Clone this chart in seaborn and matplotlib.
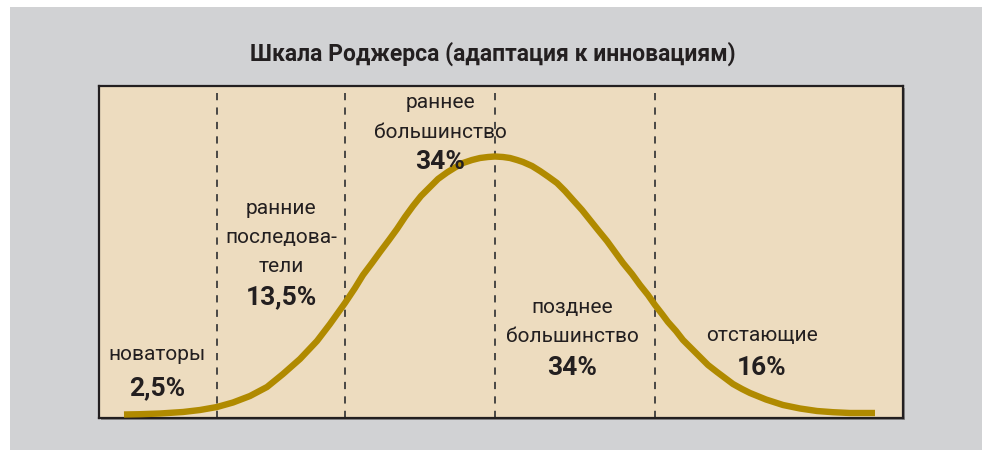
import matplotlib
matplotlib.use('Agg')
import matplotlib.pyplot as plt
from matplotlib.patches import Rectangle
import seaborn as sns

# curve (x in px, height above panel bottom in px)
curve_x = [124, 140, 160, 183, 200, 217, 233, 250, 267, 283, 300, 317, 330, 345,
           355, 363, 372, 380, 389, 397, 405, 413, 421, 430, 438, 447, 455, 463,
           472, 480, 488, 495, 503, 510, 517, 523, 532, 540, 548, 557, 565, 573,
           582, 590, 598, 607, 615, 623, 632, 640, 648, 655, 662, 668, 676, 683,
           692, 700, 708, 717, 725, 733, 742, 750, 766, 783, 800, 817, 833, 850,
           875]
curve_y = [3.5, 3.8, 4.5, 6, 8, 11, 15.5, 22, 31, 44, 59, 77, 94, 115,
           130, 143, 155, 166, 178, 189, 201, 212, 222, 231, 239, 245.5, 250.5, 255,
           258, 260, 261, 261.5, 261, 260, 258, 256, 252, 247, 241.5, 235, 227, 218,
           208, 198, 188, 177, 166, 155, 144, 133, 123, 113, 104, 96, 87, 78,
           69, 61, 53, 46, 40, 34, 29, 25, 18.5, 13, 9.5, 7, 5.8, 5,
           5]

# group boundaries
boundaries = [217, 345, 495, 655]

categories = [['новаторы'],
              ['ранние', 'последова-', 'тели'],
              ['раннее', 'большинство'],
              ['позднее', 'большинство'],
              ['отстающие']]
shares = ['2,5%', '13,5%', '34%', '34%', '16%']

title = 'Шкала Роджерса (адаптация к инновациям)'

# layout: (x centre px, y px of first line, y px of the percent)
label_pos = [(157, 355, 388), (281, 208, 297), (440, 103, 162),
             (572, 307, 368), (762, 335, 368)]
line_step = 29

W, H = 982, 450
PX0, PX1, PY0, PY1 = 99, 903, 86, 418

plt.rcParams['font.family'] = ['Roboto', 'DejaVu Sans']

fig = plt.figure(figsize=(W / 100, H / 100), dpi=100)
fig.patch.set_facecolor('white')
fig.add_artist(Rectangle((10 / W, 0), 1, 1 - 7 / H, transform=fig.transFigure,
                         facecolor='#d1d2d4', edgecolor='none', zorder=-2))
# little shadow of the panel
fig.add_artist(Rectangle(((PX0 + 2) / W, 1 - (PY1 + 2) / H), (PX1 - PX0) / W,
                         (PY1 - PY0) / H, transform=fig.transFigure,
                         facecolor='#8a8a8c', edgecolor='none', zorder=-1))

ax = fig.add_axes([PX0 / W, 1 - PY1 / H, (PX1 - PX0) / W, (PY1 - PY0) / H])
ax.set_facecolor('#eddcbf')
ax.set_xlim(PX0, PX1)
ax.set_ylim(0, PY1 - PY0)

for b in boundaries:
    ax.axvline(b, color='#3c3c3c', lw=1.3, ls=(0, (4, 4)), zorder=1)

sns.lineplot(x=curve_x, y=curve_y, ax=ax, color='#b08a00', lw=4.6,
             solid_capstyle='butt', solid_joinstyle='round', zorder=3)

for lines, pct, (cx, y0, yp) in zip(categories, shares, label_pos):
    for i, t in enumerate(lines):
        ax.text(cx, PY1 - (y0 + i * line_step), t, ha='center', va='center',
                fontsize=15, color='#231f20')
    ax.text(cx, PY1 - yp, pct, ha='center', va='center', fontsize=19,
            fontweight='bold', color='#231f20')

ax.set_xticks([])
ax.set_yticks([])
for s in ax.spines.values():
    s.set_color('#231f20')
    s.set_linewidth(1.6)

fig.text(493 / W, 1 - 54 / H, title, ha='center', va='center', fontsize=16.5,
         fontweight='bold', color='#231f20')

fig.savefig('out.png', dpi=100, facecolor=fig.get_facecolor())
